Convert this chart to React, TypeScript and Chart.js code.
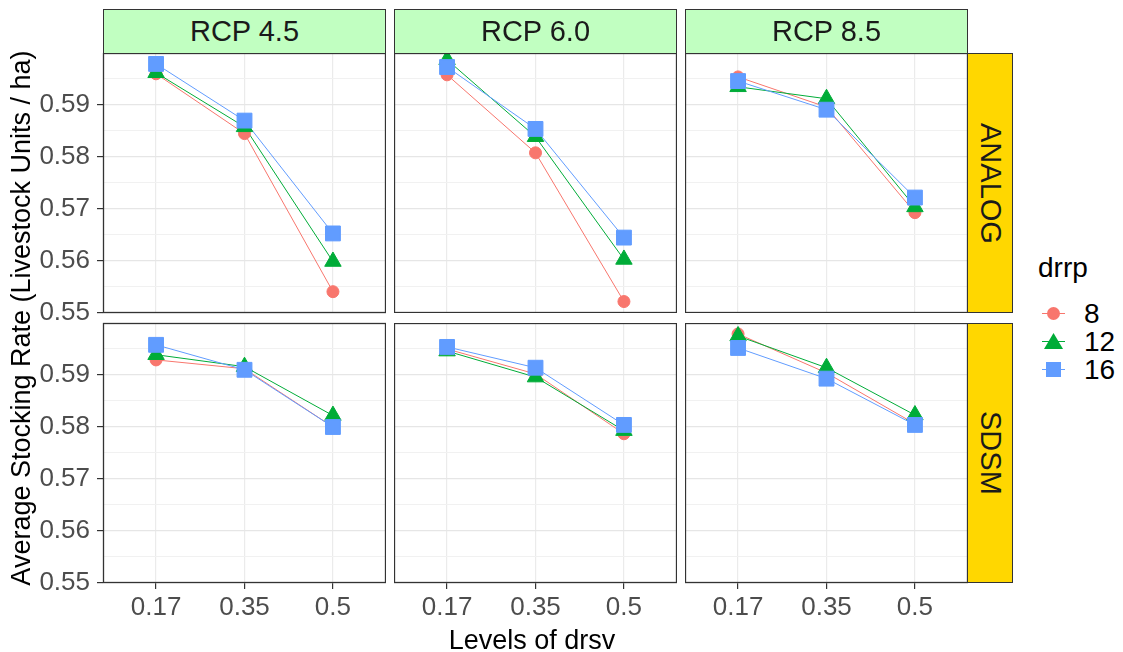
import React, { useEffect, useRef } from 'react';
import { Chart, registerables } from 'chart.js';

Chart.register(...registerables);

// ---- data ----
const drsvLevels = ['0.17', '0.35', '0.5'];
const rcpLabels = ['RCP 4.5', 'RCP 6.0', 'RCP 8.5'];
const methodLabels = ['ANALOG', 'SDSM'];
const drrpLevels = ['8', '12', '16'];
const yMajorTicks = [0.55, 0.56, 0.57, 0.58, 0.59];

const analogRcp45Drrp8 = [0.5959, 0.5844, 0.554];
const analogRcp45Drrp12 = [0.5961, 0.5857, 0.5598];
const analogRcp45Drrp16 = [0.5978, 0.5869, 0.5652];
const analogRcp60Drrp8 = [0.5957, 0.5807, 0.5521];
const analogRcp60Drrp12 = [0.5986, 0.5838, 0.5602];
const analogRcp60Drrp16 = [0.5972, 0.5853, 0.5644];
const analogRcp85Drrp8 = [0.5953, 0.5895, 0.5692];
const analogRcp85Drrp12 = [0.5934, 0.5911, 0.5703];
const analogRcp85Drrp16 = [0.5945, 0.589, 0.5721];

const sdsmRcp45Drrp8 = [0.5928, 0.5911, 0.5799];
const sdsmRcp45Drrp12 = [0.5938, 0.5915, 0.5821];
const sdsmRcp45Drrp16 = [0.5957, 0.5909, 0.5799];
const sdsmRcp60Drrp8 = [0.5949, 0.5901, 0.5786];
const sdsmRcp60Drrp12 = [0.5945, 0.5895, 0.5792];
const sdsmRcp60Drrp16 = [0.5953, 0.5913, 0.5803];
const sdsmRcp85Drrp8 = [0.5978, 0.5903, 0.5805];
const sdsmRcp85Drrp12 = [0.5974, 0.5913, 0.5822];
const sdsmRcp85Drrp16 = [0.5951, 0.5892, 0.5803];

const panelSeries = [
  [
    [analogRcp45Drrp8, analogRcp45Drrp12, analogRcp45Drrp16],
    [analogRcp60Drrp8, analogRcp60Drrp12, analogRcp60Drrp16],
    [analogRcp85Drrp8, analogRcp85Drrp12, analogRcp85Drrp16],
  ],
  [
    [sdsmRcp45Drrp8, sdsmRcp45Drrp12, sdsmRcp45Drrp16],
    [sdsmRcp60Drrp8, sdsmRcp60Drrp12, sdsmRcp60Drrp16],
    [sdsmRcp85Drrp8, sdsmRcp85Drrp12, sdsmRcp85Drrp16],
  ],
];

// ---- styles ----
const seriesColors = ['#F8766D', '#00AC38', '#619CFF'];
const pointStyles = ['circle', 'triangle', 'rect'];
const pointRadii = [6, 9.5, 10.5];
const FONT = "'Liberation Sans', Arial, sans-serif";

const PANEL_LEFT = [103, 394, 685];
const PANEL_W = 283;
const ROW_TOP = [53, 323];
const PANEL_H = 260;
const X_AXIS_H = 50;
const EXTRA = 20;

const borderPlugin = {
  id: 'panelBorder',
  afterDraw(chart: any) {
    const { ctx, chartArea } = chart;
    ctx.save();
    ctx.strokeStyle = '#333333';
    ctx.lineWidth = 1.3;
    ctx.strokeRect(
      chartArea.left + 0.5,
      chartArea.top + 0.5,
      chartArea.right - chartArea.left - 1,
      chartArea.bottom - chartArea.top - 1
    );
    ctx.restore();
  },
};

function Panel({ row, col }: { row: number; col: number }) {
  const ref = useRef<HTMLCanvasElement>(null);
  const isLeft = col === 0;
  const isBottom = row === 1;
  const yW = isLeft ? PANEL_LEFT[0] : 0;
  const xH = isBottom ? X_AXIS_H : 0;
  const padTop = isLeft ? EXTRA : 0;
  const padBottom = isLeft && !isBottom ? EXTRA : 0;
  const cw = yW + PANEL_W;
  const chh = PANEL_H + xH + padTop + padBottom;
  const left = isLeft ? 0 : PANEL_LEFT[col];
  const top = ROW_TOP[row] - padTop;

  useEffect(() => {
    const series = panelSeries[row][col];
    const datasets: any[] = [];
    drrpLevels.forEach((lvl, i) => {
      datasets.push({
        label: lvl + '-line',
        data: series[i].map((v, j) => ({ x: j, y: v })),
        borderColor: seriesColors[i],
        backgroundColor: seriesColors[i],
        borderWidth: 1,
        pointRadius: 0,
        showLine: true,
        order: 20 - i,
      });
    });
    drrpLevels.forEach((lvl, i) => {
      datasets.push({
        label: lvl,
        data: series[i].map((v, j) => ({ x: j, y: v })),
        borderColor: seriesColors[i],
        backgroundColor: seriesColors[i],
        borderWidth: 1,
        showLine: false,
        pointStyle: pointStyles[i],
        pointRadius: pointRadii[i],
        pointBorderWidth: 1,
        order: 10 - i,
      });
    });
    const yTicks: number[] = [];
    yMajorTicks.forEach((v) => {
      yTicks.push(v);
      yTicks.push(v + 0.005);
    });
    const chart = new Chart(ref.current!, {
      type: 'scatter',
      data: { datasets },
      options: {
        responsive: false,
        maintainAspectRatio: false,
        animation: false,
        events: [],
        layout: { padding: { top: padTop, bottom: padBottom, left: 0, right: 0 }, autoPadding: false },
        plugins: { legend: { display: false }, tooltip: { enabled: false } },
        scales: {
          x: {
            type: 'linear',
            min: -0.6,
            max: 2.6,
            afterBuildTicks: (s: any) => {
              s.ticks = drsvLevels.map((_, i) => ({ value: i }));
            },
            afterFit: (s: any) => {
              s.height = xH;
              s.paddingLeft = 0;
              s.paddingRight = 0;
            },
            border: { display: false },
            grid: {
              color: '#EBEBEB',
              lineWidth: 1.2,
              drawTicks: isBottom,
              tickLength: 6,
              tickColor: '#333333',
            },
            ticks: {
              display: isBottom,
              padding: 3,
              maxRotation: 0,
              autoSkip: false,
              color: '#4D4D4D',
              font: { family: FONT, size: 26 },
              callback: (_v: any, i: number) => drsvLevels[i],
            },
          },
          y: {
            type: 'linear',
            min: 0.5499,
            max: 0.5999,
            afterBuildTicks: (s: any) => {
              s.ticks = yTicks.map((v) => ({ value: v }));
            },
            afterFit: (s: any) => {
              s.width = yW;
              s.paddingTop = 0;
              s.paddingBottom = 0;
            },
            border: { display: false },
            grid: {
              color: (c: any) => (c.index % 2 === 0 ? '#E6E6E6' : '#F1F1F1'),
              lineWidth: (c: any) => (c.index % 2 === 0 ? 1.2 : 1),
              drawTicks: isLeft,
              tickLength: 6,
              tickColor: (c: any) => (c.index % 2 === 0 ? '#333333' : 'rgba(0,0,0,0)'),
            },
            ticks: {
              display: isLeft,
              padding: 7,
              autoSkip: false,
              color: '#4D4D4D',
              font: { family: FONT, size: 26 },
              callback: (v: any, i: number) => (i % 2 === 0 ? Number(v).toFixed(2) : ''),
            },
          },
        },
      } as any,
      plugins: [borderPlugin],
    });
    return () => chart.destroy();
  }, []);

  return (
    <canvas
      ref={ref}
      width={cw}
      height={chh}
      style={{ position: 'absolute', left, top, width: cw, height: chh, display: 'block' }}
    />
  );
}

function LegendKey({ i }: { i: number }) {
  const color = seriesColors[i];
  let sym: any;
  if (i === 0) {
    sym = <div style={{ position: 'absolute', left: 5, top: 5, width: 13, height: 13, borderRadius: '50%', background: color }} />;
  } else if (i === 1) {
    sym = (
      <div
        style={{
          position: 'absolute', left: 2, top: 3, width: 19, height: 16, background: color,
          clipPath: 'polygon(50% 0%, 100% 100%, 0% 100%)',
        }}
      />
    );
  } else {
    sym = <div style={{ position: 'absolute', left: 4, top: 4, width: 15, height: 15, background: color }} />;
  }
  return (
    <div style={{ position: 'absolute', left: 0, top: 0, width: 23, height: 23 }}>
      <div style={{ position: 'absolute', left: 0, top: 11, width: 23, height: 1, background: color }} />
      {sym}
    </div>
  );
}

export default function App() {
  useEffect(() => {
    document.body.style.margin = '0';
  }, []);
  const panels: any[] = [];
  for (let r = 0; r < 2; r++) for (let c = 0; c < 3; c++) panels.push(<Panel key={r + '-' + c} row={r} col={c} />);
  const legendY = [314, 342, 370];
  return (
    <div style={{ position: 'absolute', left: 0, top: 0, width: 1123, height: 652, background: '#fff', fontFamily: FONT, overflow: 'hidden' }}>
      {panels}
      {rcpLabels.map((t, c) => (
        <div
          key={t}
          style={{
            position: 'absolute', left: PANEL_LEFT[c], top: 9, width: PANEL_W, height: 45, boxSizing: 'border-box',
            background: '#C1FFC1', border: '1.3px solid #333333', display: 'flex', alignItems: 'center', justifyContent: 'center',
            fontSize: 29, color: '#1A1A1A', lineHeight: 1,
          }}
        >
          {t}
        </div>
      ))}
      {methodLabels.map((t, r) => (
        <div
          key={t}
          style={{
            position: 'absolute', left: 967, top: ROW_TOP[r], width: 46, height: PANEL_H, boxSizing: 'border-box',
            background: '#FFD700', border: '1.3px solid #333333', display: 'flex', alignItems: 'center', justifyContent: 'center',
            fontSize: 29, color: '#1A1A1A', lineHeight: 1,
          }}
        >
          <span style={{ writingMode: 'vertical-rl' as any }}>{t}</span>
        </div>
      ))}
      <div
        style={{
          position: 'absolute', left: 21 - 300, top: 318 - 16, width: 600, height: 32, textAlign: 'center',
          fontSize: 27, lineHeight: '32px', color: '#000', transform: 'rotate(-90deg)', whiteSpace: 'nowrap',
        }}
      >
        Average Stocking Rate (Livestock Units / ha)
      </div>
      <div
        style={{
          position: 'absolute', left: 532 - 200, top: 640 - 16, width: 400, height: 32, textAlign: 'center',
          fontSize: 27, lineHeight: '32px', color: '#000', whiteSpace: 'nowrap',
        }}
      >
        Levels of drsv
      </div>
      <div style={{ position: 'absolute', left: 1038, top: 268 - 16, height: 32, lineHeight: '32px', fontSize: 28, color: '#000' }}>
        drrp
      </div>
      {drrpLevels.map((lvl, i) => (
        <div key={lvl} style={{ position: 'absolute', left: 1042, top: legendY[i] - 12, width: 80, height: 24 }}>
          <LegendKey i={i} />
          <div style={{ position: 'absolute', left: 42, top: -4, lineHeight: '32px', fontSize: 28, color: '#000' }}>{lvl}</div>
        </div>
      ))}
    </div>
  );
}
